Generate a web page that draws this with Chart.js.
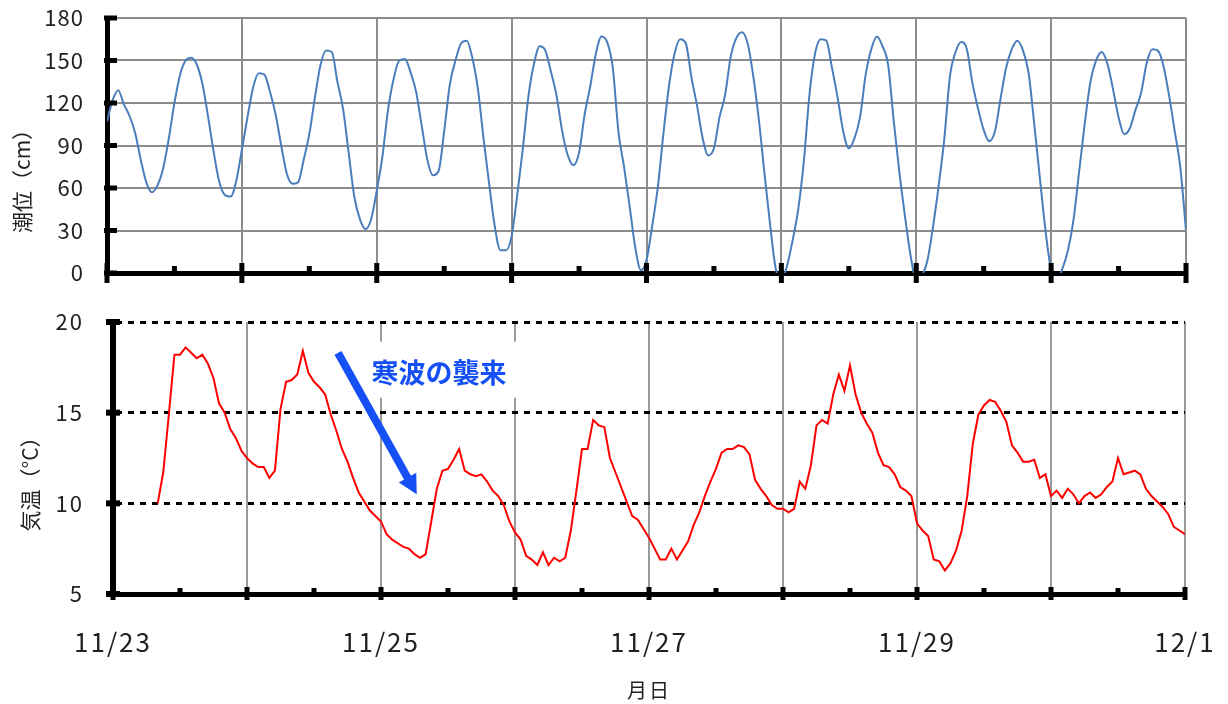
<!DOCTYPE html>
<html lang="ja">
<head>
  <meta charset="UTF-8">
  <title>潮位と気温</title>
  <script src="https://cdn.jsdelivr.net/npm/chart.js"></script>
  <style>
    body {
      margin: 0;
      background: #fff;
    }
    .wrap {
      position: relative;
      width: 1228px;
      height: 704px;
    }
    canvas {
      position: absolute;
      left: 0;
    }
    #tideChart { top: 0; }
    #tempChart { top: 300px; }
  </style>
</head>
<body>
  <div class="wrap">
    <canvas id="tideChart" width="1228" height="300"></canvas>
    <canvas id="tempChart" width="1228" height="404"></canvas>
  </div>

  <script>
    // 1時間ごと（11/23 0時 〜 12/1 0時）
    const dayLabels = ['11/23', '', '11/25', '', '11/27', '', '11/29', '', '12/1'];

    const tideLevel = [
      107, 122, 129, 119, 111, 99, 80, 64, 57, 62,
      74, 95, 120, 140, 150, 152, 147, 133, 110, 85,
      64, 55, 54, 65, 87, 110, 131, 141, 140, 128,
      112, 90, 70, 63, 64, 80, 98, 124, 147, 157,
      156, 135, 116, 85, 54, 38, 31, 38, 58, 82,
      115, 137, 150, 151, 142, 128, 104, 80, 69, 72,
      100, 133, 150, 162, 164, 152, 130, 95, 63, 33,
      16, 16, 26, 55, 88, 125, 148, 160, 157, 142,
      125, 100, 83, 76, 85, 112, 132, 155, 167, 163,
      145, 100, 75, 47, 18, 2, 9, 33, 60, 98,
      132, 155, 165, 162, 138, 118, 95, 83, 88, 110,
      126, 153, 166, 170, 162, 139, 108, 70, 34, 3,
      -5, 5, 23, 45, 79, 126, 155, 165, 164, 145,
      124, 100, 88, 95, 110, 140, 158, 167, 160, 147,
      107, 71, 40, 12, -5, -2, 9, 33, 62, 95,
      139, 156, 163, 158, 134, 116, 101, 93, 100, 123,
      145, 158, 164, 157, 141, 105, 67, 30, 2, -5,
      3, 16, 38, 72, 106, 135, 150, 156, 148, 130,
      110, 98, 102, 115, 127, 148, 158, 157, 146, 125,
      100, 74, 30
    ];

    // 気温は 11/23 8時から
    const tempStartHour = 8;
    const airTemp = [
      10.0, 11.7, 14.9, 18.2, 18.2, 18.6, 18.3, 18.0, 18.2, 17.7,
      16.9, 15.5, 15.0, 14.1, 13.6, 12.9, 12.5, 12.2, 12.0, 12.0,
      11.4, 11.8, 15.2, 16.7, 16.8, 17.1, 18.4, 17.2, 16.7, 16.4,
      16.0, 14.9, 14.0, 13.0, 12.3, 11.4, 10.6, 10.1, 9.6, 9.3,
      9.0, 8.3, 8.0, 7.8, 7.6, 7.5, 7.2, 7.0, 7.2, 9.0,
      10.8, 11.8, 11.9, 12.4, 13.0, 11.8, 11.6, 11.5, 11.6, 11.2,
      10.7, 10.4, 9.9, 9.0, 8.4, 8.0, 7.1, 6.9, 6.6, 7.3,
      6.6, 7.0, 6.8, 7.0, 8.5, 10.7, 13.0, 13.0, 14.6, 14.3,
      14.2, 12.5, 11.7, 10.9, 10.1, 9.3, 9.1, 8.6, 8.1, 7.5,
      6.9, 6.9, 7.5, 6.9, 7.4, 7.9, 8.8, 9.5, 10.4, 11.2,
      11.9, 12.8, 13.0, 13.0, 13.2, 13.1, 12.7, 11.3, 10.8, 10.4,
      9.9, 9.7, 9.7, 9.5, 9.7, 11.2, 10.8, 12.1, 14.3, 14.6,
      14.4, 16.0, 17.1, 16.2, 17.6, 16.0, 15.0, 14.4, 13.9, 12.8,
      12.1, 12.0, 11.6, 10.9, 10.7, 10.4, 8.9, 8.5, 8.2, 6.9,
      6.8, 6.3, 6.7, 7.4, 8.5, 10.4, 13.3, 14.9, 15.4, 15.7,
      15.6, 15.1, 14.5, 13.2, 12.8, 12.3, 12.3, 12.4, 11.4, 11.6,
      10.4, 10.7, 10.3, 10.8, 10.5, 10.0, 10.4, 10.6, 10.3, 10.5,
      10.9, 11.2, 12.5, 11.6, 11.7, 11.8, 11.6, 10.8, 10.4, 10.1,
      9.8, 9.4, 8.7, 8.5, 8.3
    ];

    const FONT = '"Noto Sans CJK JP", "Noto Sans", sans-serif';
    Chart.defaults.font.family = FONT;
    Chart.defaults.color = '#222';

    // 軸の幅を固定し、端のラベルによる余白を無くす
    const fixY = w => s => { s.width = w; s.paddingTop = 0; s.paddingBottom = 0; };
    const fixX = h => s => { s.height = h; s.paddingLeft = 0; s.paddingRight = 0; };

    // 目盛りの文字を少し広げる
    const spacing = {
      id: 'spacing',
      beforeDraw(chart, args, o) { chart.ctx.letterSpacing = o.value; },
      afterDraw(chart) { chart.ctx.letterSpacing = '0px'; }
    };

    // 太い軸の目盛り（日ごと）と半日ごとの小さな目盛り
    const axisMarks = {
      id: 'axisMarks',
      afterDraw(chart, args, o) {
        const { ctx, chartArea: area } = chart;
        const x = chart.scales.x, y = chart.scales.y;
        ctx.save();
        ctx.fillStyle = '#000';
        y.ticks.forEach(t => {
          const py = y.getPixelForValue(t.value);
          ctx.fillRect(area.left - o.yOut, py - o.yW / 2, o.yOut + o.yIn, o.yW);
        });
        x.ticks.forEach(t => {
          const px = x.getPixelForValue(t.value);
          ctx.fillRect(px - 2.5, area.bottom - o.majorUp, 5, o.majorUp + o.majorDown);
          if (t.value < x.max) {
            const hx = x.getPixelForValue(t.value + 12);
            ctx.fillRect(hx - 2.5, area.bottom - o.minorUp, 5, o.minorUp);
          }
        });
        ctx.restore();
      }
    };

    const sideTitle = {
      id: 'sideTitle',
      afterDraw(chart, args, o) {
        const ctx = chart.ctx;
        ctx.save();
        ctx.letterSpacing = '0px';
        ctx.font = '21px ' + FONT;
        ctx.fillStyle = '#222';
        ctx.translate(o.x, o.y);
        ctx.rotate(-Math.PI / 2);
        ctx.textAlign = 'center';
        ctx.textBaseline = 'middle';
        ctx.fillText(o.text, 0, 0);
        ctx.restore();
      }
    };

    // 「寒波の襲来」の注記と矢印
    const coldWave = {
      id: 'coldWave',
      afterDraw(chart, args, o) {
        const ctx = chart.ctx;
        const x = chart.scales.x, y = chart.scales.y;
        ctx.save();
        ctx.letterSpacing = '0px';
        ctx.font = 'bold 27px ' + FONT;
        const tx = x.getPixelForValue(o.textAt.x);
        const ty = y.getPixelForValue(o.textAt.y);
        const w = ctx.measureText(o.text).width;
        ctx.fillStyle = '#fff';
        ctx.fillRect(tx - w / 2 - 14, ty - 31, w + 28, 56);
        ctx.fillStyle = o.color;
        ctx.textAlign = 'center';
        ctx.textBaseline = 'middle';
        ctx.fillText(o.text, tx, ty);

        const x1 = x.getPixelForValue(o.from.x), y1 = y.getPixelForValue(o.from.y);
        const x2 = x.getPixelForValue(o.to.x), y2 = y.getPixelForValue(o.to.y);
        const len = Math.hypot(x2 - x1, y2 - y1);
        const ux = (x2 - x1) / len, uy = (y2 - y1) / len;
        const bx = x2 - ux * 19, by = y2 - uy * 19;
        ctx.strokeStyle = o.color;
        ctx.lineWidth = 8;
        ctx.beginPath();
        ctx.moveTo(x1, y1);
        ctx.lineTo(bx + ux * 2, by + uy * 2);
        ctx.stroke();
        ctx.beginPath();
        ctx.moveTo(x2, y2);
        ctx.lineTo(bx - uy * 10, by + ux * 10);
        ctx.lineTo(bx + uy * 10, by - ux * 10);
        ctx.closePath();
        ctx.fill();
        ctx.restore();
      }
    };

    new Chart(document.getElementById('tideChart'), {
      type: 'line',
      data: {
        datasets: [{
          data: tideLevel.map((v, i) => ({ x: i, y: v })),
          borderColor: '#4a7ebb',
          borderWidth: 2,
          pointRadius: 0,
          cubicInterpolationMode: 'monotone'
        }]
      },
      options: {
        responsive: false,
        animation: false,
        layout: { padding: { left: 0, right: 42, top: 18, bottom: 0 } },
        plugins: {
          legend: { display: false },
          tooltip: { enabled: false },
          spacing: { value: '1px' },
          axisMarks: { yOut: 3, yIn: 10, yW: 5, majorUp: 10, majorDown: 10, minorUp: 7 },
          sideTitle: { text: '潮位（cm）', x: 22, y: 176 }
        },
        scales: {
          x: {
            type: 'linear',
            min: 0,
            max: 192,
            afterFit: fixX(27),
            ticks: { stepSize: 24, display: false },
            grid: { color: '#8c8c8c', lineWidth: 2, drawTicks: false },
            border: { color: '#000', width: 5 }
          },
          y: {
            min: 0,
            max: 180,
            afterFit: fixY(107),
            ticks: { stepSize: 30, padding: 23, font: { size: 22 }, color: '#222' },
            grid: { color: '#8c8c8c', lineWidth: 2, drawTicks: false },
            border: { color: '#000', width: 5 }
          }
        }
      },
      plugins: [spacing, axisMarks, sideTitle]
    });

    new Chart(document.getElementById('tempChart'), {
      type: 'line',
      data: {
        datasets: [{
          data: airTemp.map((v, i) => ({ x: i + tempStartHour, y: v })),
          borderColor: '#ff0000',
          borderWidth: 2,
          pointRadius: 0,
          tension: 0
        }]
      },
      options: {
        responsive: false,
        animation: false,
        layout: { padding: { left: 0, right: 43, top: 22, bottom: 0 } },
        plugins: {
          legend: { display: false },
          tooltip: { enabled: false },
          spacing: { value: '2px' },
          axisMarks: { yOut: 7, yIn: 7, yW: 6, majorUp: 7, majorDown: 6, minorUp: 6 },
          sideTitle: { text: '気温（°C）', x: 30, y: 179 },
          coldWave: {
            text: '寒波の襲来',
            color: '#1450f5',
            textAt: { x: 58.4, y: 17.2 },
            from: { x: 40.3, y: 18.3 },
            to: { x: 54.4, y: 10.5 }
          }
        },
        scales: {
          x: {
            type: 'linear',
            min: 0,
            max: 192,
            afterFit: fixX(110),
            ticks: {
              stepSize: 24,
              padding: 33,
              maxRotation: 0,
              autoSkip: false,
              font: { size: 26 },
              color: '#222',
              callback: v => dayLabels[v / 24]
            },
            grid: { color: '#9a9a9a', lineWidth: 2, drawTicks: false },
            border: { color: '#000', width: 5 },
            title: { display: true, text: '月日', font: { size: 20 }, color: '#222', padding: { top: 0, bottom: 2 } }
          },
          y: {
            min: 5,
            max: 20,
            afterFit: fixY(113),
            ticks: { stepSize: 5, padding: 29, font: { size: 22 }, color: '#222' },
            grid: {
              color: c => (c.tick && c.tick.value === 5 ? 'rgba(0,0,0,0)' : '#000'),
              lineWidth: 3,
              drawTicks: false
            },
            border: { color: '#000', width: 6, dash: [6, 6] }
          }
        }
      },
      plugins: [spacing, axisMarks, sideTitle, coldWave]
    });
  </script>
</body>
</html>
